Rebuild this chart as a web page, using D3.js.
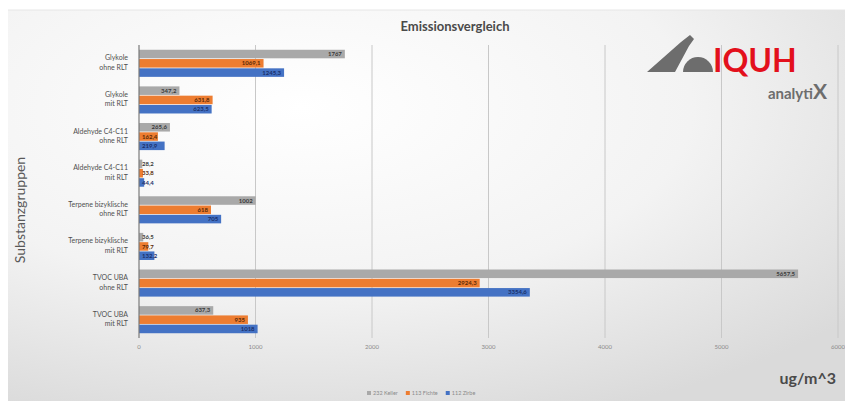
<!DOCTYPE html>
<html>
<head>
<meta charset="utf-8">
<script src="https://cdn.jsdelivr.net/npm/d3@7"></script>
<style>
  html, body { margin: 0; padding: 0; background: #fff; }
  svg { display: block; font-family: Lato, "Open Sans", sans-serif; }
</style>
</head>
<body>
<svg id="chart" width="845" height="401"></svg>
<script>
// data
const categories = [
    ["Glykole", "ohne RLT"],
    ["Glykole", "mit RLT"],
    ["Aldehyde C4-C11", "ohne RLT"],
    ["Aldehyde C4-C11", "mit RLT"],
    ["Terpene bizyklische", "ohne RLT"],
    ["Terpene bizyklische", "mit RLT"],
    ["TVOC UBA", "ohne RLT"],
    ["TVOC UBA", "mit RLT"]
];
const seriesNames = ["232 Keller", "113 Fichte", "112 Zirbe"];
const keller = [1767, 347.2, 265.6, 28.2, 1002, 36.5, 5657.5, 637.3];
const fichte = [1069.1, 631.8, 162.4, 33.8, 618, 79.7, 2924.3, 935];
const zirbe  = [1245.3, 623.5, 219.9, 44.4, 705, 132.2, 3354.6, 1018];
const xTicks = [0, 1000, 2000, 3000, 4000, 5000, 6000];

const colors = ["#a9a9a9", "#ed7d31", "#4472c4"];
const labelColors = ["#3a3a3a", "#5a2a08", "#1a2f6a"];
const seriesValues = [keller, fichte, zirbe];

(function () {
    const svg = d3.select("#chart");
    const margin = { top: 45, right: 7, bottom: 63, left: 139 };
    const W = 845 - margin.left - margin.right;
    const H = 401 - margin.top - margin.bottom;

    // background with soft gradient
    const defs = svg.append("defs");
    const grad = defs.append("radialGradient").attr("id", "bg")
        .attr("cx", "35%").attr("cy", "25%").attr("r", "85%");
    grad.append("stop").attr("offset", "0%").attr("stop-color", "#ffffff");
    grad.append("stop").attr("offset", "55%").attr("stop-color", "#f3f3f3");
    grad.append("stop").attr("offset", "100%").attr("stop-color", "#dadada");

    svg.append("rect").attr("width", 845).attr("height", 401).attr("fill", "#fff");
    svg.append("rect").attr("x", 8).attr("y", 10).attr("width", 837).attr("height", 391)
        .attr("fill", "url(#bg)");
    svg.append("line").attr("x1", 8).attr("x2", 845).attr("y1", 10).attr("y2", 10)
        .attr("stroke", "#e6e6e6");

    const x = d3.scaleLinear().domain([0, 6000]).range([0, W]);
    const keys = categories.map(c => c.join(" "));
    const y0 = d3.scaleBand().domain(keys).range([0, H])
        .paddingInner(0.22).paddingOuter(0.11);
    const y1 = d3.scaleBand().domain(d3.range(seriesNames.length))
        .range([0, y0.bandwidth()]).padding(0.08);

    const g = svg.append("g")
        .attr("transform", `translate(${margin.left},${margin.top})`);

    // gridlines
    g.append("g").selectAll("line").data(xTicks.slice(1)).join("line")
        .attr("x1", d => x(d)).attr("x2", d => x(d))
        .attr("y1", 0).attr("y2", H)
        .attr("stroke", "#c8c8c8").attr("stroke-width", 1);

    // tick labels
    g.append("g").selectAll("text").data(xTicks).join("text")
        .attr("x", d => x(d)).attr("y", H + 11)
        .attr("text-anchor", "middle")
        .style("font-size", "6px").attr("fill", "#8a8a8a")
        .text(d => d);

    const fmt = v => Number.isInteger(v) ? String(v) : v.toFixed(1).replace(".", ",");

    // bars
    const groups = g.append("g").selectAll("g").data(keys).join("g")
        .attr("transform", d => `translate(0,${y0(d)})`);

    groups.each(function (key, ci) {
        const gg = d3.select(this);
        seriesValues.forEach((vals, si) => {
            const v = vals[ci];
            const bw = x(v);
            gg.append("rect")
                .attr("x", 0).attr("y", y1(si))
                .attr("width", bw).attr("height", y1.bandwidth())
                .attr("fill", colors[si]);
            const inside = bw > 28;
            gg.append("text")
                .attr("x", inside ? bw - 3 : 3)
                .attr("y", y1(si) + y1.bandwidth() / 2)
                .attr("dy", "0.35em")
                .attr("text-anchor", inside ? "end" : "start")
                .style("font-size", "6px").style("font-weight", "bold")
                .attr("fill", labelColors[si])
                .text(fmt(v));
        });
    });

    // y axis line
    g.append("line").attr("x1", 0).attr("x2", 0).attr("y1", 0).attr("y2", H)
        .attr("stroke", "#7a7a7a").attr("stroke-width", 1.2);

    // category labels
    const cl = g.append("g").selectAll("text").data(categories).join("text")
        .attr("x", -11)
        .attr("y", (d, i) => y0(keys[i]) + y0.bandwidth() / 2 - 3)
        .attr("text-anchor", "end")
        .style("font-size", "7px").attr("fill", "#505050");
    cl.append("tspan").attr("x", -11).attr("dy", 0).text(d => d[0]);
    cl.append("tspan").attr("x", -11).attr("dy", "1.35em").text(d => d[1]);

    // axis titles
    svg.append("text")
        .attr("transform", "rotate(-90)")
        .attr("x", -210).attr("y", 25)
        .attr("text-anchor", "middle")
        .style("font-size", "14px").attr("fill", "#595959")
        .text("Substanzgruppen");

    svg.append("text")
        .attr("x", 836).attr("y", 384)
        .attr("text-anchor", "end")
        .style("font-size", "16px").style("font-weight", "bold").attr("fill", "#4a4a4a")
        .text("ug/m^3");

    svg.append("text")
        .attr("x", 455).attr("y", 31)
        .attr("text-anchor", "middle")
        .style("font-size", "13px").style("font-weight", "bold").attr("fill", "#4a4a4a")
        .text("Emissionsvergleich");

    // legend
    const legend = svg.append("g").attr("transform", "translate(367,394)");
    let lx = 0;
    seriesNames.forEach((name, i) => {
        legend.append("rect").attr("x", lx).attr("y", -3).attr("width", 4).attr("height", 4)
            .attr("fill", colors[i]);
        const t = legend.append("text").attr("x", lx + 6).attr("y", 1)
            .style("font-size", "5.5px").attr("fill", "#8a8a8a").text(name);
        lx += t.node().getComputedTextLength() + 14;
    });

    // logo
    const logo = svg.append("g").attr("transform", "translate(645,72)");
    logo.append("path").attr("d", "M2,0 L30,0 L44,-26 L49,-33 L45,-37 L36,-30 Z").attr("fill", "#6d6d6d");
    logo.append("path").attr("d", "M38,0 A15,15 0 0 1 68,0 Z").attr("fill", "#6d6d6d");
    logo.append("text").attr("x", 68).attr("y", 0)
        .style("font-size", "32px").style("font-weight", "bold").attr("fill", "#e3101c")
        .text("IQUH");
    const ax = logo.append("text").attr("x", 182).attr("y", 27)
        .attr("text-anchor", "end")
        .style("font-weight", "bold").attr("fill", "#6d6d6d");
    ax.append("tspan").style("font-size", "15px").text("analyti");
    ax.append("tspan").style("font-size", "21px").text("X");
})();
</script>
</body>
</html>
